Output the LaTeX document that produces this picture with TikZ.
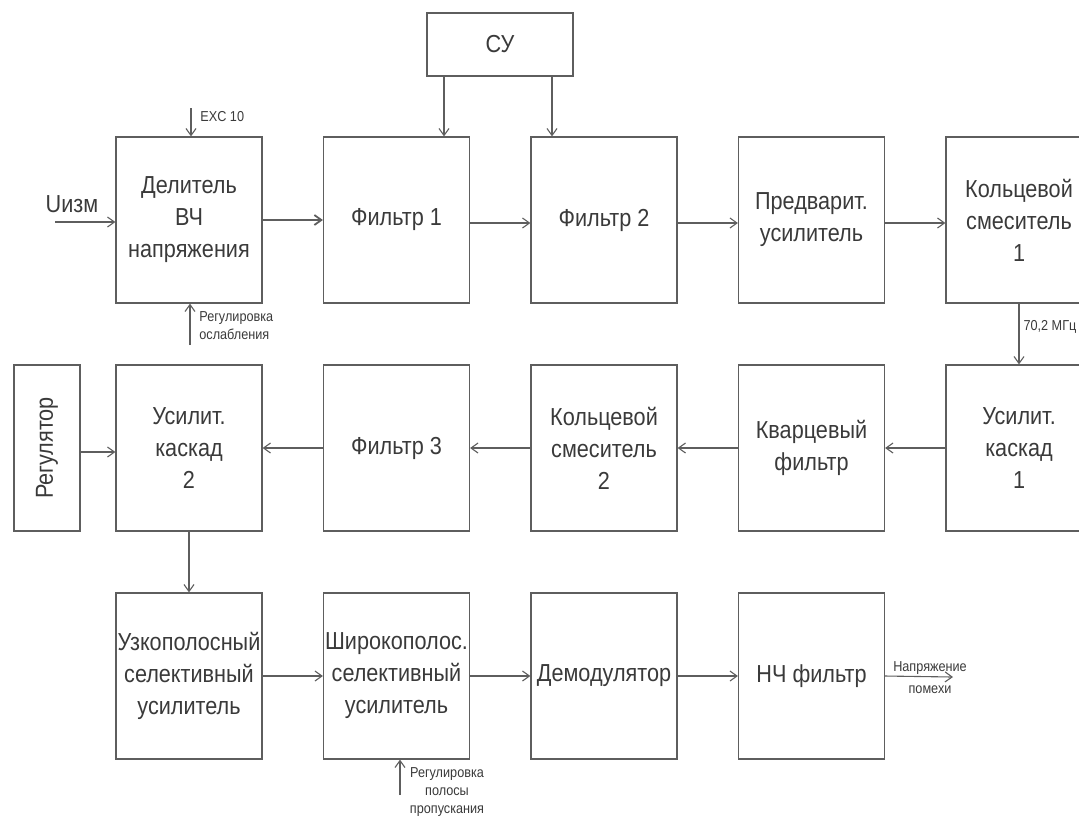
\documentclass[tikz,border=0pt]{standalone}
\usepackage{graphicx}
\usepackage{fontspec}
\setmainfont{Liberation Sans}[FakeStretch=0.88]
\usetikzlibrary{arrows.meta, positioning, calc}
\definecolor{lineg}{HTML}{5E5E5E}
\definecolor{textg}{HTML}{3A3A3A}

\begin{document}
\begin{tikzpicture}[x=0.5pt, y=-0.5pt, >={Straight Barb[length=3.5pt,width=5pt]},
    block/.style={draw=lineg, line width=0.6pt, minimum width=73pt, minimum height=83pt, inner sep=0pt, align=center, text=textg, font=\fontsize{12.3}{16}\selectfont},
    smalltext/.style={text=textg, font=\fontsize{7.2}{9}\selectfont, inner sep=1pt},
    conn/.style={draw=lineg, line width=0.55pt, ->}]
    \useasboundingbox (0,0) rectangle (1079,816);

    % row 1
    \node[block, minimum height=31.5pt] (su) at (500,44.5) {СУ};
    \node[block] (dv) at (189,220) {Делитель\\ВЧ\\напряжения};
    \node[block] (f1) at (396.5,220) {Фильтр 1};
    \node[block] (f2) at (604,220) {Фильтр 2};
    \node[block] (pu) at (811.5,220) {Предварит.\\усилитель};
    \node[block] (km1) at (1019,220) {Кольцевой\\смеситель\\1};

    % row 2
    \node[block, minimum width=33pt] (reg) at (47,448) {\rotatebox{90}{Регулятор}};
    \node[block] (uk2) at (189,448) {Усилит.\\каскад\\2};
    \node[block] (f3) at (396.5,448) {Фильтр 3};
    \node[block] (km2) at (604,448) {Кольцевой\\смеситель\\2};
    \node[block] (kv) at (811.5,448) {Кварцевый\\фильтр};
    \node[block] (uk1) at (1019,448) {Усилит.\\каскад\\1};

    % row 3
    \node[block] (uzk) at (189,676) {Узкополосный\\селективный\\усилитель};
    \node[block] (shp) at (396.5,676) {Широкополос.\\селективный\\усилитель};
    \node[block] (dem) at (604,676) {Демодулятор};
    \node[block] (nch) at (811.5,676) {НЧ фильтр};

    % inputs and outputs
    \node[text=textg, font=\fontsize{12.3}{16}\selectfont, inner sep=0pt] (ulbl) at (72,204) {Uизм};
    \coordinate (uin) at (55,222);
    \coordinate (excin) at (191,108);
    \coordinate (attn) at (190,345);
    \coordinate (bandin) at (400,795);
    \coordinate (out) at (953,677);

    \draw[conn] (uin) -- (uin -| dv.west);
    \draw[conn, line width=0.9pt] (dv) -- (f1);
    \draw[conn] ([yshift=-1.5pt]f1.east) -- ([yshift=-1.5pt]f2.west);
    \draw[conn] ([yshift=-1.5pt]f2.east) -- ([yshift=-1.5pt]pu.west);
    \draw[conn] ([yshift=-1.5pt]pu.east) -- ([yshift=-1.5pt]km1.west);
    \draw[conn] ([xshift=-28pt]su.south) -- ([xshift=-28pt]su.south |- f1.north);
    \draw[conn] ([xshift=26pt]su.south) -- ([xshift=26pt]su.south |- f2.north);
    \draw[conn] (excin) -- (excin |- dv.north);
    \node[smalltext, anchor=west] (exclbl) at (198,117) {EXC 10};
    \draw[conn] (attn) -- (attn |- dv.south);
    \node[smalltext, anchor=north west, align=left] (attnlbl) at (197,309) {Регулировка\\ослабления};

    \draw[conn] (km1) -- (uk1) node[smalltext, pos=0.38, right=1pt] (mhz) {70,2 МГц};
    \draw[conn] (uk1) -- (kv);
    \draw[conn] (kv) -- (km2);
    \draw[conn] (km2) -- (f3);
    \draw[conn] (f3) -- (uk2);
    \draw[conn] ([yshift=-2pt]reg.east) -- ([yshift=-2pt]uk2.west);
    \draw[conn] (uk2) -- (uzk);

    \draw[conn] (uzk) -- (shp);
    \draw[conn] (shp) -- (dem);
    \draw[conn] (dem) -- (nch);
    \draw[conn] (nch.east) -- (out);
    \node[smalltext, align=center] (outlbl) at (930,678) {Напряжение\\[2pt]помехи};
    \draw[conn] (bandin) -- (bandin |- shp.south);
    \node[smalltext, anchor=north, align=center] (bandlbl) at (447,765) {Регулировка\\полосы\\пропускания};
\end{tikzpicture}
\end{document}
